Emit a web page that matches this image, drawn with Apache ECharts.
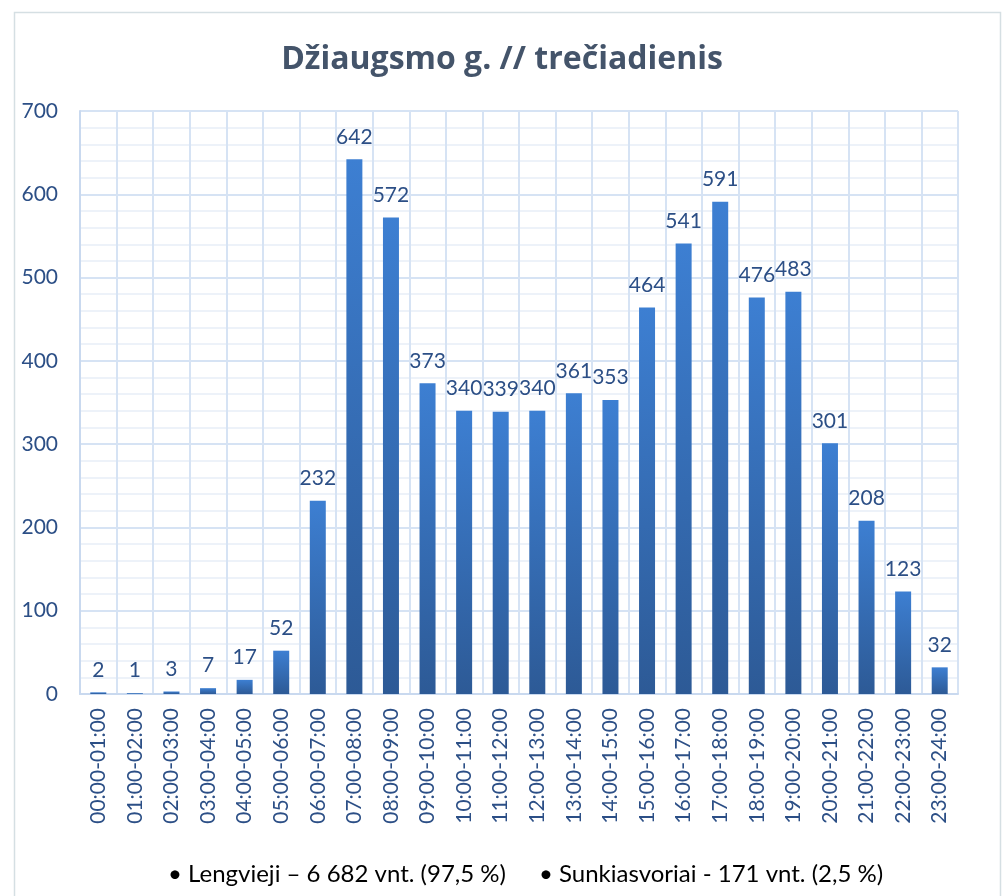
<!DOCTYPE html>
<html>
<head>
<meta charset="utf-8">
<script src="https://cdn.jsdelivr.net/npm/echarts@6/dist/echarts.min.js"></script>
<style>
  html, body { margin: 0; padding: 0; background: #fff; }
  #chart { width: 1004px; height: 896px; }
</style>
</head>
<body>
<div id="chart"></div>
<script>
// Hourly traffic counts
const titleText = 'Džiaugsmo g. // trečiadienis';
const hours = [
  '00:00-01:00', '01:00-02:00', '02:00-03:00', '03:00-04:00', '04:00-05:00', '05:00-06:00',
  '06:00-07:00', '07:00-08:00', '08:00-09:00', '09:00-10:00', '10:00-11:00', '11:00-12:00',
  '12:00-13:00', '13:00-14:00', '14:00-15:00', '15:00-16:00', '16:00-17:00', '17:00-18:00',
  '18:00-19:00', '19:00-20:00', '20:00-21:00', '21:00-22:00', '22:00-23:00', '23:00-24:00'
];
const vehicles = [2, 1, 3, 7, 17, 52, 232, 642, 572, 373, 340, 339, 340, 361, 353, 464, 541, 591, 476, 483, 301, 208, 123, 32];
const footnotes = [
  '• Lengvieji – 6 682 vnt. (97,5 %)',
  '• Sunkiasvoriai - 171 vnt. (2,5 %)'
];

const FONT = 'Lato, "Open Sans", sans-serif';
const TITLE_FONT = '"Open Sans", Lato, sans-serif';
const LABEL_BLUE = '#2c4f86';
const chart = echarts.init(document.getElementById('chart'), null, { renderer: 'canvas' });

chart.setOption({
  animation: false,
  backgroundColor: '#ffffff',
  title: {
    text: titleText,
    left: 'center',
    top: 39,
    textStyle: { fontFamily: TITLE_FONT, fontSize: 32, fontWeight: 'bold', color: '#44546a' }
  },
  grid: { left: 80, right: 46, top: 111, bottom: 202, containLabel: false },
  xAxis: {
    type: 'category',
    data: hours,
    boundaryGap: true,
    axisLine: { show: true, lineStyle: { color: '#c9d9ef', width: 2 } },
    axisTick: { show: false },
    splitLine: { show: true, interval: 0, lineStyle: { color: '#d6e3f4', width: 2 } },
    axisLabel: {
      interval: 0,
      rotate: 90,
      margin: 14,
      fontFamily: FONT,
      fontSize: 21,
      color: LABEL_BLUE
    }
  },
  yAxis: {
    type: 'value',
    min: 0,
    max: 700,
    interval: 100,
    axisLine: { show: true, lineStyle: { color: '#c9d9ef', width: 2 } },
    axisTick: { show: false },
    splitLine: { show: true, lineStyle: { color: '#d6e3f4', width: 2 } },
    minorTick: { show: false, splitNumber: 5 },
    minorSplitLine: { show: true, lineStyle: { color: '#edf2f9', width: 2 } },
    axisLabel: { margin: 22, fontFamily: FONT, fontSize: 21, color: LABEL_BLUE }
  },
  series: [{
    type: 'bar',
    data: vehicles,
    barWidth: 16,
    itemStyle: {
      color: new echarts.graphic.LinearGradient(0, 0, 0, 1, [
        { offset: 0, color: '#3d7fd2' },
        { offset: 1, color: '#2d5a96' }
      ])
    },
    label: {
      show: true,
      position: 'top',
      distance: 12,
      fontFamily: FONT,
      fontSize: 21,
      color: LABEL_BLUE
    }
  }],
  graphic: [
    {
      type: 'rect',
      shape: { x: 14.5, y: 12.5, width: 986, height: 900 },
      style: { fill: 'none', stroke: '#d5dfe3', lineWidth: 1.5 },
      silent: true
    },
    {
      type: 'text',
      x: 168,
      y: 874,
      style: { text: footnotes[0], fontFamily: FONT, fontSize: 24, fill: '#000000', verticalAlign: 'middle' }
    },
    {
      type: 'text',
      x: 539,
      y: 874,
      style: { text: footnotes[1], fontFamily: FONT, fontSize: 24, fill: '#000000', verticalAlign: 'middle' }
    }
  ]
});
</script>
</body>
</html>
